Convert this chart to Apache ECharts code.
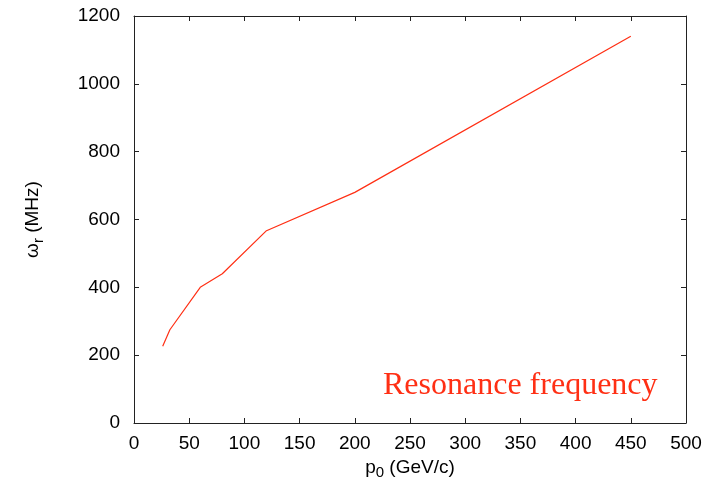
<!DOCTYPE html>
<html><head><meta charset="utf-8">
<script src="https://cdn.jsdelivr.net/npm/echarts@6/dist/echarts.min.js"></script>
<style>html,body{margin:0;padding:0;background:#fff}#c{width:709px;height:493px}</style>
</head><body><div id="c"></div>
<script>
const momentum = [26, 32.5, 60, 80, 120, 200, 450];
const frequency = [226, 275, 400, 440, 567, 680, 1140];
const xTicks = [0, 50, 100, 150, 200, 250, 300, 350, 400, 450, 500];
const yTicks = [0, 200, 400, 600, 800, 1000, 1200];
const legendText = 'Resonance frequency';

const chart = echarts.init(document.getElementById('c'), null, {renderer: 'canvas'});
const font = 'Liberation Sans';
const axisCommon = {
  axisLine: {show: true, onZero: false, lineStyle: {color: '#222', width: 1}},
  axisTick: {show: true, inside: true, length: 5, lineStyle: {color: '#222'}},
  splitLine: {show: false}
};
const nameRich = {
  a: {fontFamily: font, fontSize: 19, color: '#000'},
  s: {fontFamily: font, fontSize: 15, color: '#000', verticalAlign: 'bottom', padding: [11, 0, 0, 0]}
};
chart.setOption({
  animation: false,
  backgroundColor: '#fff',
  grid: {left: 134, top: 16, right: 23, bottom: 70, containLabel: false},
  title: {
    text: legendText, left: 378, top: 365,
    textStyle: {fontFamily: 'Liberation Serif', fontWeight: 'normal', fontSize: 32, color: '#ff2f14'}
  },
  xAxis: [
    Object.assign({
      type: 'value', min: xTicks[0], max: xTicks[xTicks.length - 1], interval: 50, position: 'bottom',
      name: '{a|p}{s|0}{a| (GeV/c)}', nameLocation: 'middle', nameGap: 30,
      nameTextStyle: {rich: nameRich},
      axisLabel: {fontFamily: font, fontSize: 19, color: '#000', margin: 11, formatter: v => String(v)}
    }, axisCommon),
    Object.assign({
      type: 'value', min: xTicks[0], max: xTicks[xTicks.length - 1], interval: 50, position: 'top',
      axisLabel: {show: false}
    }, axisCommon)
  ],
  yAxis: [
    Object.assign({
      type: 'value', min: yTicks[0], max: yTicks[yTicks.length - 1], interval: 200, position: 'left',
      name: '{a|ω}{s|r}{a| (MHz)}', nameLocation: 'middle', nameGap: 88, nameRotate: 90,
      nameTextStyle: {rich: nameRich},
      axisLabel: {fontFamily: font, fontSize: 19, color: '#000', margin: 14, formatter: v => String(v)}
    }, axisCommon),
    Object.assign({
      type: 'value', min: yTicks[0], max: yTicks[yTicks.length - 1], interval: 200, position: 'right',
      axisLabel: {show: false}
    }, axisCommon)
  ],
  series: [{
    type: 'line',
    data: momentum.map((m, i) => [m, frequency[i]]),
    showSymbol: false,
    lineStyle: {color: '#ff2f14', width: 1.2},
    xAxisIndex: 0, yAxisIndex: 0
  }]
});
</script></body></html>
